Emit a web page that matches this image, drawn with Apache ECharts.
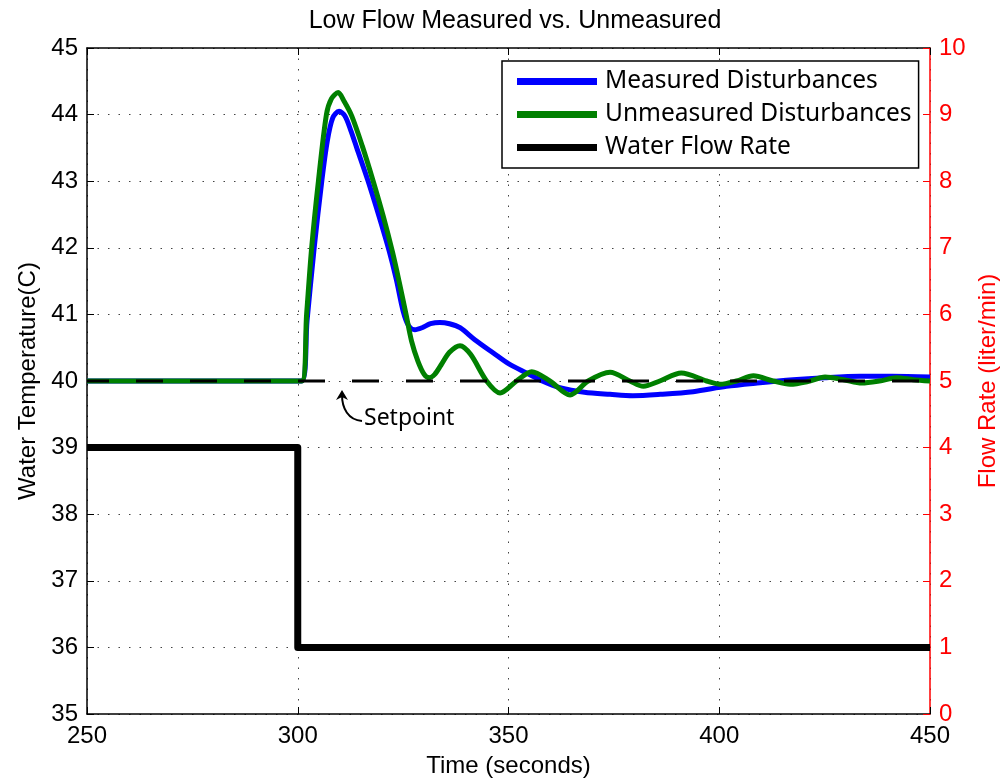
<!DOCTYPE html>
<html>
<head>
<meta charset="utf-8">
<script src="https://cdn.jsdelivr.net/npm/echarts@6/dist/echarts.min.js"></script>
<style>
  html, body { margin: 0; padding: 0; background: #fff; }
  #chart { width: 1003px; height: 782px; }
</style>
</head>
<body>
<div id="chart"></div>
<script>
// time (s), temperature (C)
var measured = [
  [250, 40], [300.9, 40], [302.2, 40.9], [303.9, 42], [305.7, 43], [307, 43.6],
  [308.3, 43.95], [309.8, 44.05], [311.2, 43.98], [312.6, 43.76], [314, 43.5],
  [316.7, 43.0], [319.3, 42.47], [321.7, 41.95], [323.4, 41.52], [325, 41.05],
  [326.3, 40.83], [327.8, 40.77], [329.5, 40.8], [331.5, 40.86], [333.7, 40.88],
  [336, 40.86], [338.5, 40.8], [342, 40.62], [346.4, 40.42], [350, 40.26],
  [354.3, 40.12], [358, 40.0], [362.2, 39.9], [368, 39.83], [374.1, 39.8],
  [379.5, 39.78], [386, 39.8], [393.8, 39.84], [401.7, 39.92], [409, 39.97],
  [417.5, 40.02], [425, 40.05], [433.4, 40.07], [441, 40.07], [450, 40.06]
];
var unmeasured = [
  [250, 40], [300.9, 40], [302.1, 41], [303.3, 42], [304.9, 43], [306.8, 44],
  [308, 44.24], [309.6, 44.33], [311, 44.2], [312.8, 43.98], [315.3, 43.53],
  [317.9, 43.0], [320.3, 42.47], [322.5, 41.93], [324.2, 41.45], [325.7, 41.0],
  [327, 40.6], [328.5, 40.3], [330, 40.1], [331.2, 40.05], [332.5, 40.1],
  [334, 40.24], [336, 40.43], [338.5, 40.53], [341, 40.4], [344.8, 40.0],
  [348, 39.82], [351.9, 40.0], [355.5, 40.14], [359.8, 40.0], [364.6, 39.79],
  [368.9, 40.0], [374.1, 40.13], [378.8, 40.0], [382, 39.92], [385.9, 40.0],
  [391, 40.12], [397, 40.0], [400.2, 39.95], [404.1, 40.0], [408.1, 40.08],
  [412.8, 40.0], [416.8, 39.95], [421, 39.99], [425.1, 40.06], [429.5, 40.02],
  [433.8, 39.97], [438, 40.0], [442.1, 40.05], [446, 40.02], [450, 40.0]
];
// flow rate (liter/min)
var flowRate = [[250, 4], [300, 4], [300, 1], [450, 1]];
var setpoint = [[250, 40], [450, 40]];

var chart = echarts.init(document.getElementById('chart'));

var tickFont = { fontFamily: 'Liberation Sans', fontSize: 24 };
var dotted = { color: '#444', width: 1, type: [1.5, 9] };

var option = {
  animation: false,
  backgroundColor: '#fff',
  title: {
    text: 'Low Flow Measured vs. Unmeasured',
    left: 510,
    textAlign: 'center',
    top: 4,
    textStyle: { fontFamily: 'Liberation Sans', fontSize: 25, fontWeight: 'normal', color: '#000' }
  },
  grid: { left: 87, right: 73, top: 48, bottom: 68, containLabel: false, outerBoundsMode: 'none' },
  legend: {
    orient: 'vertical',
    left: 502,
    top: 61,
    padding: [8, 7, 8, 15],
    itemGap: 8,
    itemWidth: 80,
    itemHeight: 7,
    backgroundColor: '#fff',
    borderColor: '#000',
    borderWidth: 1.5,
    borderRadius: 0,
    textStyle: { fontFamily: 'Noto Sans', fontSize: 24.5, lineHeight: 24, color: '#000', padding: [0, 0, 0, 3] },
    data: [
      { name: 'Measured Disturbances', icon: 'rect' },
      { name: 'Unmeasured Disturbances', icon: 'rect' },
      { name: 'Water Flow Rate', icon: 'rect' }
    ]
  },
  xAxis: [
    {
      type: 'value', min: 250, max: 450, interval: 50, position: 'bottom',
      name: 'Time (seconds)', nameLocation: 'middle', nameGap: 40,
      nameTextStyle: { fontFamily: 'Liberation Sans', fontSize: 24, color: '#000' },
      axisLine: { onZero: false, lineStyle: { color: '#000', width: 1.5 } },
      axisTick: { inside: true, length: 7, lineStyle: { color: '#000' } },
      axisLabel: Object.assign({ color: '#000', margin: 10 }, tickFont),
      splitLine: { show: true, lineStyle: dotted }
    },
    {
      type: 'value', min: 250, max: 450, interval: 50, position: 'top',
      axisLine: { onZero: false, lineStyle: { color: '#000', width: 1.5 } },
      axisTick: { inside: true, length: 7, lineStyle: { color: '#000' } },
      axisLabel: { show: false },
      splitLine: { show: false }
    }
  ],
  yAxis: [
    {
      type: 'value', min: 35, max: 45, interval: 1, position: 'left',
      name: 'Water Temperature(C)', nameLocation: 'middle', nameGap: 46, nameRotate: 90,
      nameTextStyle: { fontFamily: 'Liberation Sans', fontSize: 24, color: '#000' },
      axisLine: { show: true, onZero: false, lineStyle: { color: '#000', width: 1.5 } },
      axisTick: { show: true, inside: true, length: 7, lineStyle: { color: '#000' } },
      axisLabel: Object.assign({ color: '#000', margin: 9 }, tickFont),
      splitLine: { show: true, lineStyle: dotted }
    },
    {
      type: 'value', min: 0, max: 10, interval: 1, position: 'right',
      name: 'Flow Rate (liter/min)', nameLocation: 'middle', nameGap: 46, nameRotate: 90,
      nameTextStyle: { fontFamily: 'Liberation Sans', fontSize: 24, color: '#ff0000' },
      axisLine: { show: true, onZero: false, lineStyle: { color: '#ff0000', width: 1.5 } },
      axisTick: { show: true, inside: true, length: 7, lineStyle: { color: '#ff0000' } },
      axisLabel: Object.assign({ color: '#ff0000', margin: 9 }, tickFont),
      splitLine: { show: false }
    }
  ],
  series: [
    {
      name: 'Measured Disturbances', type: 'line', data: measured,
      xAxisIndex: 0, yAxisIndex: 0, showSymbol: false, smooth: 0.3,
      color: '#0000ff', lineStyle: { color: '#0000ff', width: 5 }, z: 3
    },
    {
      name: 'Unmeasured Disturbances', type: 'line', data: unmeasured,
      xAxisIndex: 0, yAxisIndex: 0, showSymbol: false, smooth: 0.3,
      color: '#008000', lineStyle: { color: '#008000', width: 5 }, z: 4
    },
    {
      name: 'Water Flow Rate', type: 'line', data: flowRate,
      xAxisIndex: 0, yAxisIndex: 1, showSymbol: false,
      color: '#000', lineStyle: { color: '#000', width: 7, join: 'round' }, z: 3
    },
    {
      name: 'Setpoint', type: 'line', data: setpoint,
      xAxisIndex: 0, yAxisIndex: 0, showSymbol: false, silent: true,
      lineStyle: { color: '#000', width: 3, type: [27, 27], dashOffset: 5 }, z: 5
    }
  ],
  graphic: [
    {
      type: 'text', left: 364, top: 407, z: 10,
      style: { text: 'Setpoint', fontFamily: 'Noto Sans', fontSize: 23, fill: '#000' }
    },
    {
      type: 'bezierCurve', z: 10,
      shape: { x1: 362, y1: 421, cpx1: 348, cpy1: 420, cpx2: 342, cpy2: 408, x2: 342, y2: 395 },
      style: { stroke: '#000', lineWidth: 2, fill: null }
    },
    {
      type: 'polygon', z: 10,
      shape: { points: [[342, 390], [336, 400], [342, 397], [348, 400]] },
      style: { fill: '#000' }
    }
  ]
};

chart.setOption(option);
</script>
</body>
</html>
